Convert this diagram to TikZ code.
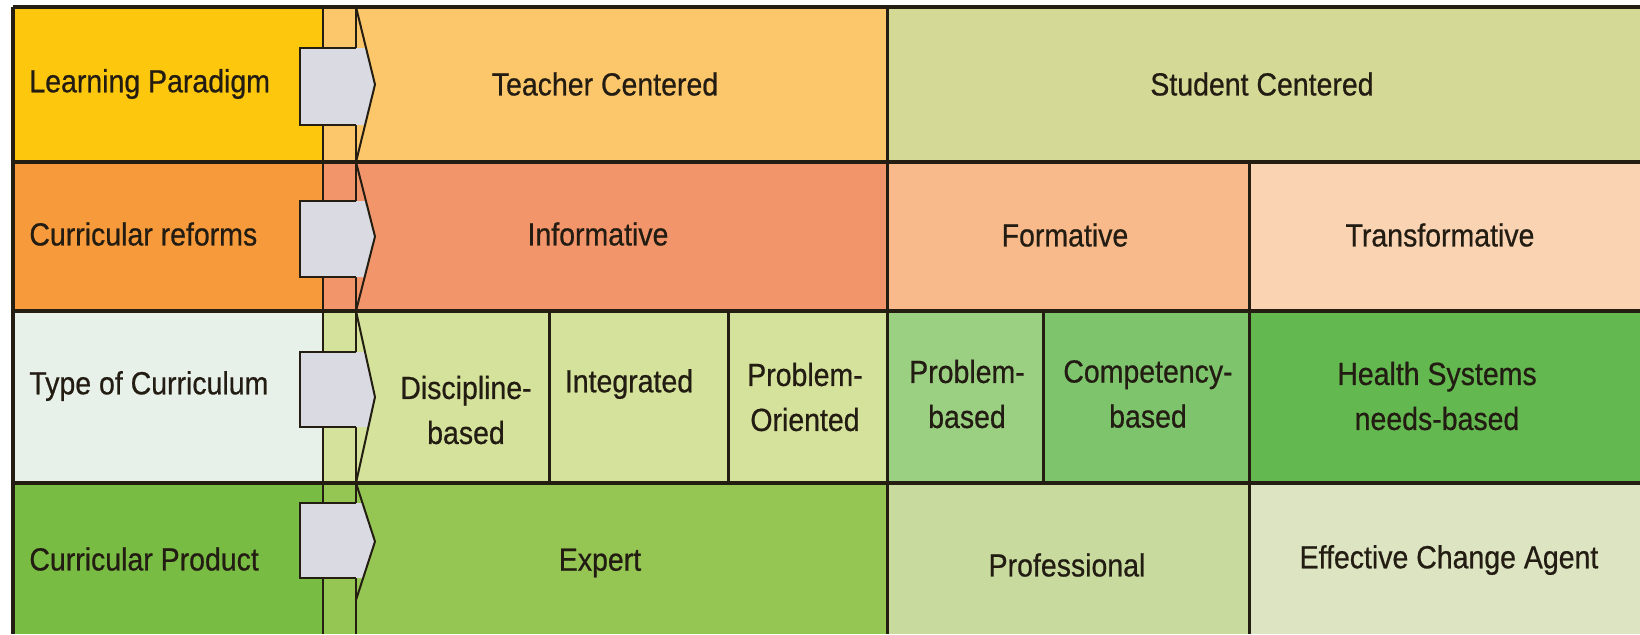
\documentclass[tikz,border=0pt]{standalone}
\usepackage{fontspec}
\setmainfont{Liberation Sans}
\newfontfamily\cellfont[FakeStretch=0.89, FakeBold=0.6]{Liberation Sans}

\definecolor{linecol}{HTML}{231D12}
\definecolor{txtcol}{HTML}{221C12}
\definecolor{arrowgray}{HTML}{D9DAE2}
% row 1
\definecolor{paradigm}{HTML}{FDC70E}
\definecolor{teacher}{HTML}{FCC66B}
\definecolor{student}{HTML}{D4DA95}
% row 2
\definecolor{reforms}{HTML}{F69A3B}
\definecolor{inform}{HTML}{F3956B}
\definecolor{formative}{HTML}{F9BA8B}
\definecolor{transform}{HTML}{FAD3B3}
% row 3
\definecolor{curtype}{HTML}{E8F0EA}
\definecolor{lightgreen}{HTML}{D4E29B}
\definecolor{pbl}{HTML}{9BD083}
\definecolor{compet}{HTML}{7EC46D}
\definecolor{health}{HTML}{63B84F}
% row 4
\definecolor{product}{HTML}{79BC44}
\definecolor{expert}{HTML}{95C654}
\definecolor{profess}{HTML}{C8DA9E}
\definecolor{agent}{HTML}{DCE4C1}

\begin{document}
\begin{tikzpicture}[x=0.5pt, y=-0.5pt,
    lbl/.style={font=\cellfont\fontsize{16}{22.5}\selectfont, text=txtcol, align=center, inner sep=0pt},
    rowline/.style={draw=linecol, line width=2pt},
    colline/.style={draw=linecol, line width=1.5pt},
    thinline/.style={draw=linecol, line width=1pt}]
\useasboundingbox (0,0) rectangle (1640,634);

% cell fills
\foreach \xa/\xb/\ya/\yb/\col in {
    13/323/7/162/paradigm, 323/887/7/162/teacher, 887/1640/7/162/student,
    13/323/162/311/reforms, 323/887/162/311/inform, 887/1249/162/311/formative, 1249/1640/162/311/transform,
    13/323/311/483/curtype, 323/887/311/483/lightgreen, 887/1043/311/483/pbl, 1043/1249/311/483/compet, 1249/1640/311/483/health,
    13/323/483/634/product, 323/887/483/634/expert, 887/1249/483/634/profess, 1249/1640/483/634/agent}
{
    \fill[\col] (\xa,\ya) rectangle (\xb,\yb);
}

% strip lines
\draw[thinline] (323,7)--(323,634);
\draw[thinline] (356,7)--(356,634);

% grid
\draw[colline] (887,7)--(887,634);
\draw[colline] (1249,162)--(1249,634);
\foreach \x in {549,728,1043}
{
    \draw[colline] (\x,311)--(\x,483);
}
\foreach \y in {162,311,483}
{
    \draw[rowline] (13,\y)--(1640,\y);
}
\draw[rowline] (13,7)--(1640,7);
\draw[rowline] (13,7)--(13,634);

% arrows
\foreach \ya/\yb/\ra/\rb in {7/162/48/125, 162/311/201/277, 311/483/352/427, 483/600/503/578}
{
    \fill[arrowgray] (300,\ra)--(356,\ra)--({356+19*(\ra-\ya)/((\yb-\ya)/2)},\ra)--(375,{(\ya+\yb)/2})
        --({356+19*(\yb-\rb)/((\yb-\ya)/2)},\rb)--(356,\rb)--(300,\rb)--cycle;
    \draw[thinline] (356,\ra)--(300,\ra)--(300,\rb)--(356,\rb);
    \draw[thinline] (356,\ya)--(375,{(\ya+\yb)/2})--(356,\yb);
}

% row labels
\node[lbl, anchor=west] (paradigmlbl) at (29,84) {Learning Paradigm};
\node[lbl, anchor=west] (reformslbl) at (29,234) {Curricular reforms};
\node[lbl, anchor=west] (typelbl) at (29,386) {Type of Curriculum};
\node[lbl, anchor=west] (productlbl) at (29,559) {Curricular Product};

% row 1
\node[lbl] (teachc) at (605,84) {Teacher Centered};
\node[lbl] (studc) at (1262,84) {Student Centered};
% row 2
\node[lbl] (informc) at (598,234) {Informative};
\node[lbl] (formc) at (1065,235) {Formative};
\node[lbl] (transc) at (1440,235) {Transformative};
% row 3
\node[lbl] (discc) at (466,410) {Discipline-\\based};
\node[lbl] (integc) at (629,384) {Integrated};
\node[lbl] (probc) at (805,397) {Problem-\\Oriented};
\node[lbl] (pblc) at (967,394) {Problem-\\based};
\node[lbl] (competc) at (1148,394) {Competency-\\based};
\node[lbl] (healthc) at (1437,396) {Health Systems\\needs-based};
% row 4
\node[lbl] (expertc) at (600,563) {Expert};
\node[lbl] (profc) at (1067,565) {Professional};
\node[lbl] (agentc) at (1449,560) {Effective Change Agent};
\end{tikzpicture}
\end{document}
